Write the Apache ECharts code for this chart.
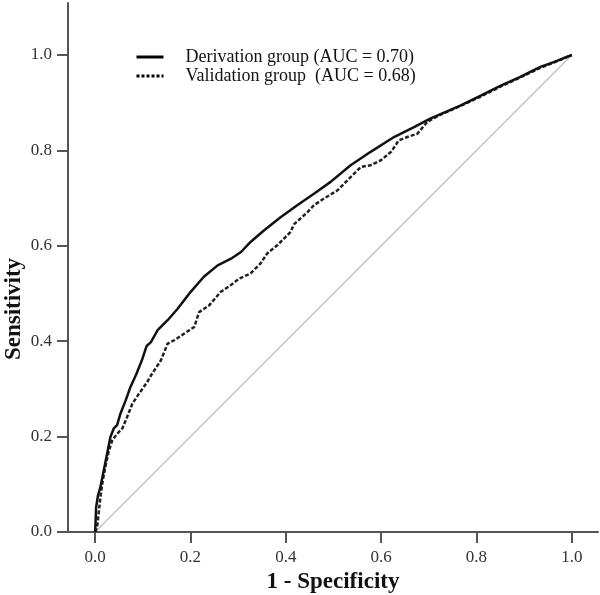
<!DOCTYPE html>
<html>
<head>
<meta charset="utf-8">
<script src="https://cdn.jsdelivr.net/npm/echarts@6/dist/echarts.min.js"></script>
<style>
html,body{margin:0;padding:0;background:#fff;}
#c{width:600px;height:595px;}
</style>
</head>
<body>
<div id="c"></div>
<script>
// ---- data ----
var xTicks = [0, 0.2, 0.4, 0.6, 0.8, 1.0];
var yTicks = [0, 0.2, 0.4, 0.6, 0.8, 1.0];
var seriesNames = ['Derivation group (AUC = 0.70)', 'Validation group  (AUC = 0.68)'];
var derivationPts = [
  [0,0],[0.002,0.052],[0.006,0.077],[0.011,0.094],[0.018,0.129],[0.025,0.164],
  [0.032,0.199],[0.039,0.217],[0.046,0.224],[0.053,0.248],[0.064,0.276],[0.074,0.304],
  [0.086,0.33],[0.098,0.36],[0.108,0.39],[0.117,0.398],[0.131,0.423],[0.152,0.444],
  [0.173,0.468],[0.2,0.503],[0.228,0.535],[0.257,0.559],[0.285,0.573],[0.306,0.587],
  [0.326,0.608],[0.354,0.632],[0.389,0.66],[0.424,0.685],[0.459,0.709],[0.494,0.734],
  [0.536,0.769],[0.578,0.797],[0.627,0.828],[0.669,0.849],[0.704,0.867],[0.766,0.894],
  [0.809,0.915],[0.851,0.936],[0.892,0.954],[0.934,0.975],[0.962,0.985],[1,1]
];
var validationPts = [
  [0,0],[0.004,0.01],[0.008,0.045],[0.011,0.073],[0.016,0.108],[0.022,0.14],
  [0.029,0.171],[0.036,0.192],[0.046,0.206],[0.057,0.217],[0.067,0.241],[0.078,0.269],
  [0.092,0.29],[0.109,0.314],[0.117,0.328],[0.138,0.36],[0.152,0.395],[0.166,0.402],
  [0.187,0.416],[0.208,0.43],[0.218,0.461],[0.239,0.475],[0.263,0.503],[0.284,0.517],
  [0.302,0.531],[0.326,0.542],[0.347,0.563],[0.361,0.584],[0.382,0.601],[0.41,0.629],
  [0.417,0.645],[0.445,0.67],[0.459,0.685],[0.48,0.699],[0.508,0.716],[0.536,0.744],
  [0.557,0.765],[0.578,0.769],[0.599,0.779],[0.621,0.797],[0.637,0.821],[0.655,0.828],
  [0.676,0.835],[0.697,0.86],[0.725,0.875],[0.766,0.893],[0.809,0.913],[0.851,0.934],
  [0.892,0.953],[0.934,0.973],[0.962,0.984],[1,1]
];
var diagonalPts = [[0,0],[1,1]];

var serif = 'Liberation Serif';
var chart = echarts.init(document.getElementById('c'), null, {renderer:'canvas'});
chart.setOption({
  animation: false,
  backgroundColor: '#fff',
  grid: {left: 68, right: 2, top: 3, bottom: 63, containLabel: false, outerBoundsMode: 'none'},
  legend: {
    orient: 'vertical', left: 130, top: 43, itemWidth: 27, itemHeight: 12, itemGap: 1,
    itemStyle: {opacity: 0},
    textStyle: {fontFamily: serif, fontSize: 18, color: '#111', padding: [0,0,0,17]},
    data: [
      {name: seriesNames[0], lineStyle: {width: 3, color: '#000', type: 'solid'}},
      {name: seriesNames[1], lineStyle: {width: 3, color: '#000', type: [3,2]}}
    ]
  },
  xAxis: {
    type: 'value', min: -0.057, max: 1.055,
    name: '1 - Specificity', nameLocation: 'middle', nameGap: 36,
    nameTextStyle: {fontFamily: serif, fontSize: 23, fontWeight: 'bold', color: '#111'},
    axisLine: {onZero: false, lineStyle: {color: '#555', width: 2}},
    axisTick: {show: true, length: 11, customValues: xTicks, lineStyle: {color: '#555', width: 2}},
    axisLabel: {customValues: xTicks, margin: 17, fontFamily: serif, fontSize: 17, color: '#333',
      formatter: function(v){ return v.toFixed(1); }},
    splitLine: {show: false}
  },
  yAxis: {
    type: 'value', min: 0, max: 1.109,
    axisLine: {show: true, onZero: false, lineStyle: {color: '#555', width: 2}},
    axisTick: {show: true, length: 11, customValues: yTicks, lineStyle: {color: '#555', width: 2}},
    axisLabel: {customValues: yTicks, margin: 16, fontFamily: serif, fontSize: 17, color: '#333',
      formatter: function(v){ return v.toFixed(1); }},
    splitLine: {show: false}
  },
  graphic: [{
    type: 'text', x: 14, y: 309, rotation: Math.PI/2,
    style: {text: 'Sensitivity', fontFamily: serif, fontSize: 23, fontWeight: 'bold', fill: '#111',
      textAlign: 'center', textVerticalAlign: 'middle'}
  }],
  series: [
    {name: 'diag', type: 'line', data: diagonalPts, symbol: 'none', silent: true,
      itemStyle: {color: '#bdbdbd'}, lineStyle: {color: '#bdbdbd', width: 1.2}, z: 1},
    {name: seriesNames[0], type: 'line', data: derivationPts, symbol: 'none',
      itemStyle: {color: '#111'}, lineStyle: {color: '#111', width: 2.5, type: 'solid'}, z: 3},
    {name: seriesNames[1], type: 'line', data: validationPts, symbol: 'none',
      itemStyle: {color: '#222'}, lineStyle: {color: '#222', width: 2.5, type: [4,2]}, z: 2}
  ]
});
</script>
</body>
</html>
